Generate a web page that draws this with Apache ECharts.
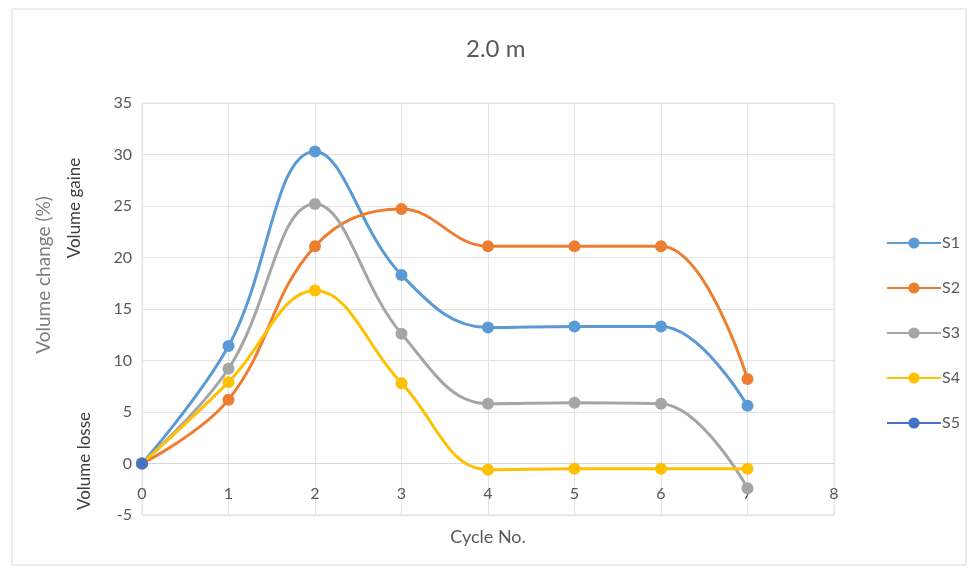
<!DOCTYPE html>
<html>
<head>
<meta charset="utf-8">
<script src="https://cdn.jsdelivr.net/npm/echarts@6/dist/echarts.min.js"></script>
<style>
  html, body { margin: 0; padding: 0; background: #fff; }
  #chart { width: 974px; height: 571px; }
</style>
</head>
<body>
<div id="chart"></div>
<script>
// cycle numbers on the x axis
var cycles = [0, 1, 2, 3, 4, 5, 6, 7]
var seriesNames = ['S1', 'S2', 'S3', 'S4', 'S5']
var s1 = [0, 11.4, 30.3, 18.3, 13.2, 13.3, 13.3, 5.6]
var s2 = [0, 6.2, 21.1, 24.7, 21.1, 21.1, 21.1, 8.2]
var s3 = [0, 9.2, 25.2, 12.6, 5.8, 5.9, 5.8, -2.4]
var s4 = [0, 7.9, 16.8, 7.8, -0.6, -0.5, -0.5, -0.5]
var s5 = [0]
var colors = ['#5B9BD5', '#ED7D31', '#A5A5A5', '#FFC000', '#4472C4']

var font = 'Lato, "Open Sans", sans-serif'

function pairs(vals){
    return vals.map(function(v, i){ return [cycles[i], v] })
}

var allData = [s1, s2, s3, s4, s5]

var chart = echarts.init(document.getElementById('chart'))

var option = {
    animation: false,
    color: colors,
    title: {
        text: '2.0 m',
        left: 461,
        top: 32,
        textStyle: { fontFamily: font, fontSize: 24, fontWeight: 'normal', color: '#595959' }
    },
    legend: {
        orient: 'vertical',
        left: 881,
        top: 230,
        itemWidth: 54,
        itemHeight: 14,
        itemGap: 29,
        data: seriesNames,
        textStyle: { fontFamily: font, fontSize: 16, color: '#595959', padding: [0, 0, 0, -4] }
    },
    grid: {
        left: 142,
        right: 140,
        top: 103,
        bottom: 56,
        show: true,
        borderColor: '#E3E3E3',
        borderWidth: 1
    },
    xAxis: {
        type: 'value',
        min: 0,
        max: 8,
        interval: 1,
        // the axis crosses the y axis at 0, like the Excel original
        offset: -51.5,
        axisLine: { onZero: false, lineStyle: { color: '#D9D9D9', width: 1 } },
        axisTick: { show: false },
        axisLabel: { fontFamily: font, fontSize: 16, color: '#595959', margin: 22 },
        splitLine: { show: true, lineStyle: { color: '#E3E3E3' } }
    },
    yAxis: {
        type: 'value',
        min: -5,
        max: 35,
        interval: 5,
        axisLine: { show: false },
        axisTick: { show: false },
        axisLabel: { fontFamily: font, fontSize: 16, color: '#595959', margin: 10 },
        splitLine: { show: true, lineStyle: { color: '#E3E3E3' } }
    },
    graphic: [
        { type: 'rect', shape: { x: 12, y: 9, width: 954, height: 556 },
          style: { fill: 'none', stroke: '#D9D9D9', lineWidth: 1 }, silent: true },
        { type: 'text', x: 44, y: 275, rotation: Math.PI / 2,
          style: { text: 'Volume change (%)', font: '19px ' + font, fill: '#7F7F7F',
                   textAlign: 'center', textVerticalAlign: 'middle' } },
        { type: 'text', x: 75, y: 208, rotation: Math.PI / 2,
          style: { text: 'Volume gaine', font: '17px ' + font, fill: '#404040',
                   textAlign: 'center', textVerticalAlign: 'middle' } },
        { type: 'text', x: 85, y: 461, rotation: Math.PI / 2,
          style: { text: 'Volume losse', font: '17px ' + font, fill: '#404040',
                   textAlign: 'center', textVerticalAlign: 'middle' } },
        { type: 'text', x: 488, y: 537,
          style: { text: 'Cycle No.', font: '18px ' + font, fill: '#595959',
                   textAlign: 'center', textVerticalAlign: 'middle' } }
    ],
    series: allData.map(function(vals, i){
        return {
            name: seriesNames[i],
            type: 'line',
            data: pairs(vals),
            smooth: 0.4,
            symbol: 'circle',
            symbolSize: 12,
            lineStyle: { width: 3, color: colors[i] },
            itemStyle: { color: colors[i] }
        }
    })
}

chart.setOption(option)
</script>
</body>
</html>
